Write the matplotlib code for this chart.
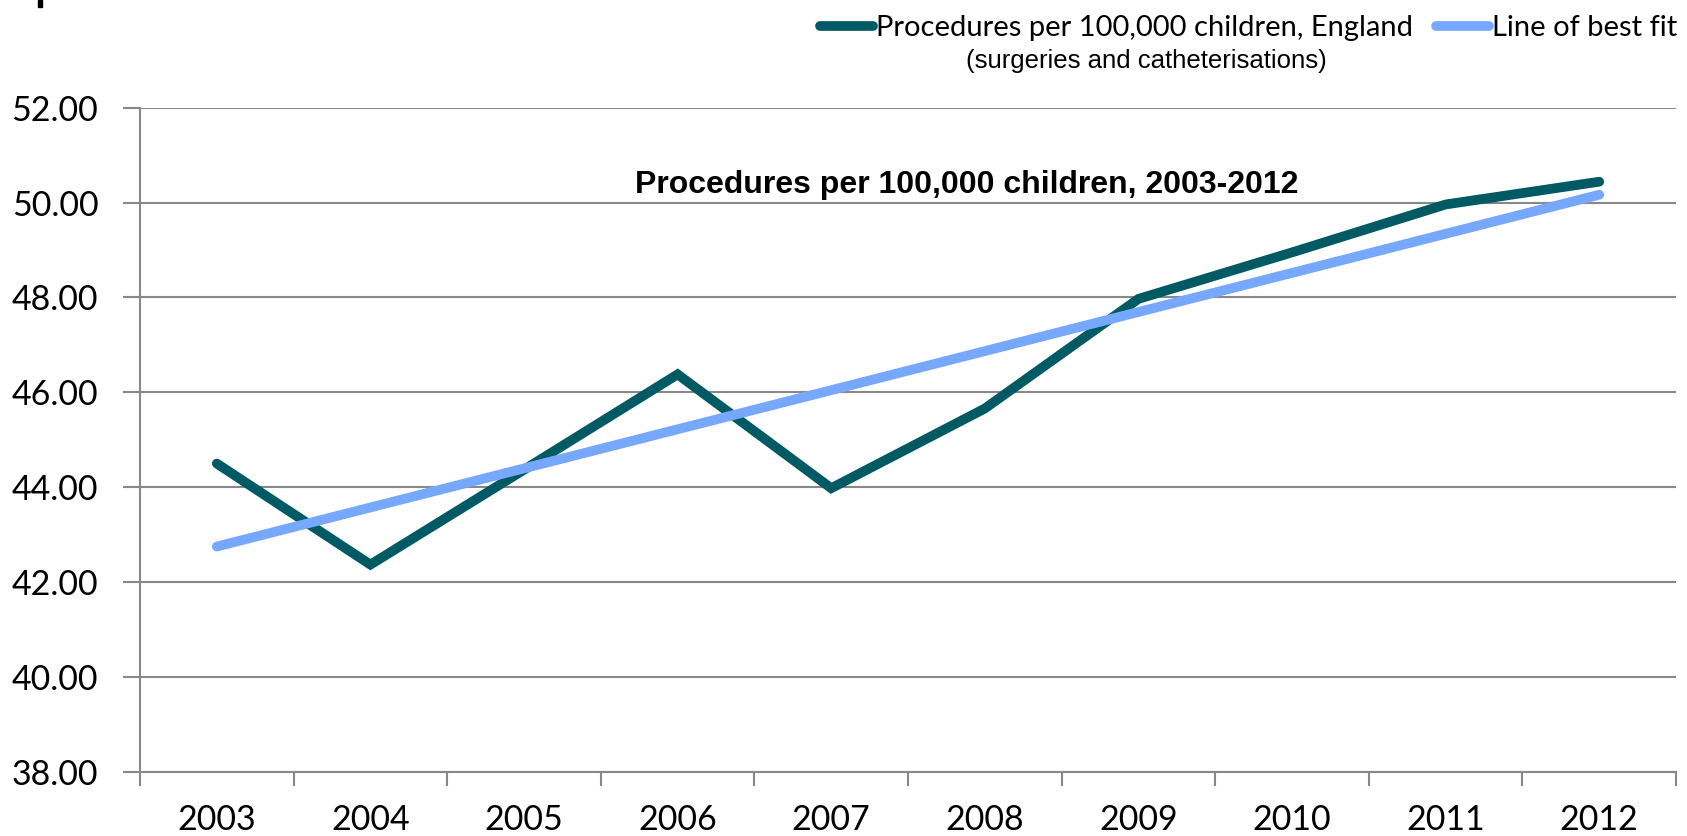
import numpy as np
import matplotlib
matplotlib.use('Agg')
import matplotlib.pyplot as plt
from matplotlib.patches import Rectangle

years = ['2003', '2004', '2005', '2006', '2007', '2008', '2009', '2010', '2011', '2012']
procedures = [44.50, 42.37, 44.37, 46.38, 43.98, 45.66, 47.97, 48.95, 49.96, 50.44]
yticks = [38, 40, 42, 44, 46, 48, 50, 52]

teal = '#005A64'
blue = '#77A8FF'
grid = '#888888'

x = np.arange(len(years))
# linear trend through the yearly values
coef = np.polyfit(x, procedures, 1)
fit = np.polyval(coef, x)

fig = plt.figure(figsize=(16.87, 8.36), dpi=100)
ax = fig.add_axes([0.083, 0.0766, 0.9105, 0.7946])

l1, = ax.plot(x, procedures, color=teal, lw=7, solid_capstyle='round', solid_joinstyle='miter',
              label='Procedures per 100,000 children, England', zorder=3)
l2, = ax.plot(x, fit, color=blue, lw=7, solid_capstyle='round',
              label='Line of best fit', zorder=4)

ax.set_xlim(-0.5, len(years) - 0.5)
ax.set_ylim(38, 52)
ax.set_yticks(yticks)
ax.set_yticklabels(['%.2f' % v for v in yticks], family='Lato', fontsize=24.5)
ax.set_xticks(x)
ax.set_xticklabels(years, family='Lato', fontsize=24.5)
ax.set_xticks(np.arange(-0.5, len(years)), minor=True)
ax.tick_params(axis='x', which='major', length=0, pad=23)
ax.tick_params(axis='x', which='minor', length=10, width=1.5, color=grid)
ax.tick_params(axis='y', length=12, width=1.5, color=grid, pad=18)
ax.grid(axis='y', color=grid, lw=1.5)
ax.set_axisbelow(True)
for s in ['top', 'right']:
    ax.spines[s].set_visible(False)
for s in ['left', 'bottom']:
    ax.spines[s].set_color(grid)
    ax.spines[s].set_linewidth(1.5)

ax.text(0.5383, 0.883, 'Procedures per 100,000 children, 2003-2012', transform=ax.transAxes,
        ha='center', va='center', family='Liberation Sans', fontweight='bold', fontsize=23)

leg = fig.legend(handles=[l1, l2], loc='center right', bbox_to_anchor=(1.0095, 0.966), ncol=2,
                 frameon=False, handlelength=1.8, handletextpad=0.1, columnspacing=0.8,
                 prop={'family': 'Lato', 'size': 21})
fig.text(0.6795, 0.927, '(surgeries and catheterisations)', ha='center', va='center',
         family='Liberation Sans', fontsize=18.5)

fig.add_artist(Rectangle((38 / 1687, 1 - 7 / 836), 4 / 1687, 7 / 836, transform=fig.transFigure,
                         color='black'))

fig.savefig('out.png', dpi=100)
